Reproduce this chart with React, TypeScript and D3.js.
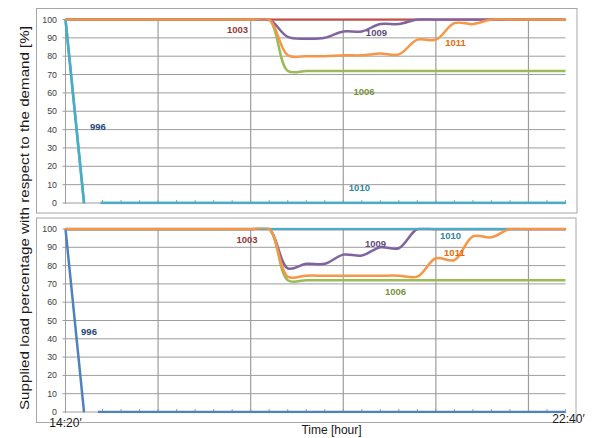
import React from 'react';
import * as d3 from 'd3';

// ---------- data ----------
const stepCount = 27; // sample intervals between 14:20' and 22:40'
const yTickValues = [0, 10, 20, 30, 40, 50, 60, 70, 80, 90, 100];
const xEndLabels = ['14:20′', '22:40′'];
const majorEvery = 5;

// top panel
const top1003 = [100,100,100,100,100,100,100,100,100,100,100,100,100,100,100,100,100,100,100,100,100,100,100,100,100,100,100,100];
const top1006 = [100,100,100,100,100,100,100,100,100,100,100,100,72,72,72,72,72,72,72,72,72,72,72,72,72,72,72,72];
const top1009 = [100,100,100,100,100,100,100,100,100,100,100,100,90.5,89.5,90,93.5,93.5,97.5,97.5,100,100,100,100,100,100,100,100,100];
const top1011 = [100,100,100,100,100,100,100,100,100,100,100,100,80.5,80,80,80.5,80.5,81.5,81,89,89,98,97.5,100,100,100,100,100];
// [step, value] pairs, null = gap in line
const top996: ([number, number] | null)[] = [[0, 100], [1, 0], null, [1.9, 0], [27, 0]];
const top1010: ([number, number] | null)[] = [[0, 100], [1, 0], null, [1.9, 0], [27, 0]];

// bottom panel
const bot1003 = [100,100,100,100,100,100,100,100,100,100,100,100,100,100,100,100,100,100,100,100,100,100,100,100,100,100,100,100];
const bot1010 = [100,100,100,100,100,100,100,100,100,100,100,100,100,100,100,100,100,100,100,100,100,100,100,100,100,100,100,100];
const bot1006 = [100,100,100,100,100,100,100,100,100,100,100,100,72,72,72,72,72,72,72,72,72,72,72,72,72,72,72,72];
const bot1009 = [100,100,100,100,100,100,100,100,100,100,100,100,78.5,81,81,86,85.5,90,89.5,100,100,100,100,100,100,100,100,100];
const bot1011 = [100,100,100,100,100,100,100,100,100,100,100,100,74,74.5,74.5,74.5,74.5,74.5,74.5,74,84,83,96,95.5,100,100,100,100];
const bot996: ([number, number] | null)[] = [[0, 100], [1, 0], null, [1.75, 0], [27, 0]];

// label anchors in data units [step, value]
const topLabels: { name: string; at: [number, number]; color: string }[] = [
  { name: '1003', at: [9.29, 92.4], color: '#953735' },
  { name: '996', at: [1.75, 39.8], color: '#1f497d' },
  { name: '1009', at: [16.79, 91.0], color: '#604a7b' },
  { name: '1011', at: [21.06, 85.6], color: '#e46c0a' },
  { name: '1006', at: [16.12, 58.9], color: '#77933c' },
  { name: '1010', at: [15.87, 6.5], color: '#31859c' },
];
const botLabels: { name: string; at: [number, number]; color: string }[] = [
  { name: '1003', at: [9.8, 92.6], color: '#953735' },
  { name: '996', at: [1.27, 42.1], color: '#1f497d' },
  { name: '1009', at: [16.74, 90.4], color: '#604a7b' },
  { name: '1010', at: [20.79, 94.8], color: '#31859c' },
  { name: '1011', at: [21.0, 85.0], color: '#e46c0a' },
  { name: '1006', at: [17.82, 64.2], color: '#77933c' },
];

const C = {
  s996top: '#4bacc6',
  s996bot: '#4f81bd',
  s1003: '#c0504d',
  s1006: '#9bbb59',
  s1009: '#8064a2',
  s1010: '#4bacc6',
  s1011: '#f79646',
};

type Series = { key: string; color: string; values?: number[]; pairs?: ([number, number] | null)[] };

const topSeries: Series[] = [
  { key: '996', color: C.s996top, pairs: top996 },
  { key: '1003', color: C.s1003, values: top1003 },
  { key: '1006', color: C.s1006, values: top1006 },
  { key: '1009', color: C.s1009, values: top1009 },
  { key: '1010', color: C.s1010, pairs: top1010 },
  { key: '1011', color: C.s1011, values: top1011 },
];
const botSeries: Series[] = [
  { key: '996', color: C.s996bot, pairs: bot996 },
  { key: '1003', color: C.s1003, values: bot1003 },
  { key: '1006', color: C.s1006, values: bot1006 },
  { key: '1009', color: C.s1009, values: bot1009 },
  { key: '1010', color: C.s1010, values: bot1010 },
  { key: '1011', color: C.s1011, values: bot1011 },
];

const FONT = '"Liberation Sans", Arial, sans-serif';
const LW = 2.5;

function Panel(props: {
  id: string;
  box: [number, number, number, number];
  plotTop: number;
  plotBottom: number;
  series: Series[];
  labels: { name: string; at: [number, number]; color: string }[];
  showEnds: boolean;
}) {
  const { id, box, plotTop, plotBottom, series, labels, showEnds } = props;
  const x = d3.scaleLinear().domain([0, stepCount]).range([65.5, 565.5]);
  const y = d3.scaleLinear().domain([0, 100]).range([plotBottom, plotTop]);
  const curve = d3.curveCatmullRom.alpha(0.5);
  const line = d3
    .line<[number, number] | null>()
    .defined((d) => d !== null)
    .x((d) => x((d as [number, number])[0]))
    .y((d) => y((d as [number, number])[1]))
    .curve(curve);
  const steps = d3.range(0, stepCount + 1);
  const majors = steps.filter((s) => s > 0 && s % majorEvery === 0);
  const clipId = 'clip-' + id;
  return (
    <g>
      <defs>
        <clipPath id={clipId}>
          <rect x={x(0) - LW} y={y(100) - LW / 2} width={x(stepCount) - x(0) + 2 * LW} height={y(0) - y(100) + LW} />
        </clipPath>
      </defs>
      <rect x={box[0]} y={box[1]} width={box[2] - box[0]} height={box[3] - box[1]} fill="#fff" stroke="#a6a6a6" strokeWidth={1} />
      {yTickValues.map((v) => (
        <line key={'h' + v} x1={x(0) - 3} x2={x(stepCount)} y1={y(v)} y2={y(v)} stroke="#9d9d9d" strokeWidth={1} />
      ))}
      {majors.map((s) => (
        <line key={'v' + s} x1={x(s)} x2={x(s)} y1={y(0)} y2={y(100)} stroke="#9d9d9d" strokeWidth={1.2} />
      ))}
      <line x1={x(0)} x2={x(0)} y1={y(0)} y2={y(100)} stroke="#9d9d9d" strokeWidth={1} />
      {steps.map((s) => (
        <line key={'t' + s} x1={x(s)} x2={x(s)} y1={y(0) - 3} y2={y(0) + 1} stroke="#9d9d9d" strokeWidth={1} />
      ))}
      {yTickValues.map((v) => (
        <text key={'yl' + v} x={x(0) - 8.5} y={y(v)} dy="0.35em" textAnchor="end" fontFamily={FONT} fontSize={8.8} fill="#404040">
          {v}
        </text>
      ))}
      <g clipPath={`url(#${clipId})`}>
        {series.map((s) => {
          const pts: ([number, number] | null)[] = s.pairs
            ? s.pairs
            : (s.values as number[]).map((v, i) => [i, v] as [number, number]);
          return <path key={s.key} d={line(pts) || ''} fill="none" stroke={s.color} strokeWidth={LW} strokeLinejoin="round" />;
        })}
      </g>
      {labels.map((l) => (
        <text key={'l' + l.name} x={x(l.at[0])} y={y(l.at[1])} textAnchor="middle" fontFamily={FONT} fontWeight="bold" fontSize={9.5} fill={l.color}>
          {l.name}
        </text>
      ))}
      {showEnds && (
        <g fontFamily={FONT} fontSize={12} fill="#1a1a1a" textAnchor="middle">
          <text x={x(0)} y={box[3] + 4}>{xEndLabels[0]}</text>
          <text x={x(stepCount) + 3} y={box[3] + 0.5}>{xEndLabels[1]}</text>
        </g>
      )}
    </g>
  );
}

export default function App() {
  return (
    <svg width={592} height={438} style={{ position: 'absolute', left: 0, top: 0, background: '#fff' }}>
      <rect x={0} y={0} width={592} height={438} fill="#fff" />
      <Panel id="top" box={[36.5, 8.5, 577, 213]} plotTop={19.5} plotBottom={203} series={topSeries} labels={topLabels} showEnds={false} />
      <Panel id="bot" box={[36.5, 218, 576, 422.5]} plotTop={229} plotBottom={412} series={botSeries} labels={botLabels} showEnds={true} />
      <text
        transform="translate(29,218) rotate(-90)"
        textAnchor="middle"
        fontFamily={FONT}
        fontSize={13}
        textLength={384}
        lengthAdjust="spacingAndGlyphs"
        fill="#1a1a1a"
      >
        Supplied load percentage with respect to the demand [%]
      </text>
      <text x={331.5} y={433.5} textAnchor="middle" fontFamily={FONT} fontSize={12} fill="#1a1a1a">
        Time [hour]
      </text>
    </svg>
  );
}
